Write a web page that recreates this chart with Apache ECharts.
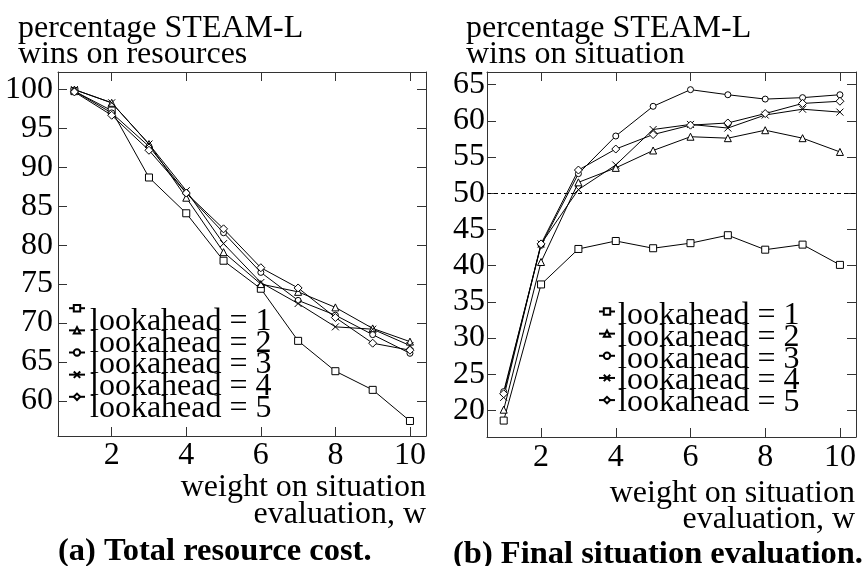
<!DOCTYPE html>
<html><head><meta charset="utf-8">
<script src="https://cdn.jsdelivr.net/npm/echarts@6/dist/echarts.min.js"></script>
<style>html,body{margin:0;padding:0;background:#fff}#c{width:866px;height:566px}</style>
</head><body><div id="c"></div>
<script>
// ---- data ----
const weights = [1, 2, 3, 4, 5, 6, 7, 8, 9, 10];
const seriesNames = ['lookahead = 1', 'lookahead = 2', 'lookahead = 3', 'lookahead = 4', 'lookahead = 5'];
// (a) percentage STEAM-L wins on resources
const resLook1 = [99.8, 97.3, 88.7, 84.1, 78.0, 74.4, 67.7, 63.8, 61.4, 57.4];
const resLook2 = [100.0, 98.3, 93.0, 86.1, 79.1, 75.0, 74.0, 72.0, 69.3, 67.6];
const resLook3 = [99.8, 97.0, 92.7, 86.7, 81.6, 76.5, 72.9, 71.0, 68.5, 66.1];
const resLook4 = [100.0, 98.3, 93.0, 87.0, 80.2, 75.2, 72.5, 69.5, 69.2, 67.1];
const resLook5 = [99.7, 96.7, 92.2, 86.7, 82.1, 77.1, 74.5, 70.7, 67.4, 66.5];
// (b) percentage STEAM-L wins on situation
const sitLook1 = [18.6, 37.4, 42.3, 43.4, 42.4, 43.1, 44.2, 42.2, 42.9, 40.1];
const sitLook2 = [20.1, 40.5, 51.5, 53.5, 55.9, 57.8, 57.6, 58.7, 57.6, 55.7];
const sitLook3 = [22.6, 42.8, 52.7, 57.9, 62.0, 64.3, 63.6, 63.0, 63.2, 63.6];
const sitLook4 = [21.8, 43.0, 50.5, 53.9, 58.8, 59.5, 59.0, 60.8, 61.6, 61.2];
const sitLook5 = [22.3, 43.0, 53.2, 56.1, 58.1, 59.4, 59.7, 61.0, 62.4, 62.7];
const evenLine = 50;
const xTickStep = 2;
const yTickStep = 5;

// ---- styling ----
const FONT = 'Liberation Serif';
const symbols = ['rect', 'triangle', 'circle', 'path://M0,0L10,10M0,10L10,0', 'diamond'];
const symbolSizes = [7, 7, 6, 7, 8];
const resData = [resLook1, resLook2, resLook3, resLook4, resLook5];
const sitData = [sitLook1, sitLook2, sitLook3, sitLook4, sitLook5];
const frameColor = '#333';

function pairs(vals) { return weights.map((w, i) => [w, vals[i]]); }
function stepFmt(step) {
  return function (v) { return Math.abs(v / step - Math.round(v / step)) < 1e-6 ? String(Math.round(v)) : ''; };
}
function xAxisDef(grid, min, max, pos, labels, margin) {
  return {
    type: 'value', gridIndex: grid, position: pos, min: min, max: max, splitNumber: 5,
    axisLine: { show: true, onZero: false, lineStyle: { color: frameColor, width: 1 } },
    axisTick: { show: true, inside: true, length: 9, lineStyle: { color: frameColor } },
    axisLabel: { show: labels, margin: margin, color: '#000', fontFamily: FONT, fontSize: 32, formatter: stepFmt(xTickStep), showMinLabel: false, showMaxLabel: false },
    splitLine: { show: false }
  };
}
function yAxisDef(grid, min, max, split, pos, labels, margin) {
  return {
    type: 'value', gridIndex: grid, position: pos, min: min, max: max, splitNumber: split,
    axisLine: { show: true, onZero: false, lineStyle: { color: frameColor, width: 1 } },
    axisTick: { show: true, inside: true, length: 9, lineStyle: { color: frameColor } },
    axisLabel: { show: labels, margin: margin, color: '#000', fontFamily: FONT, fontSize: 32, formatter: stepFmt(yTickStep), showMinLabel: false, showMaxLabel: false },
    splitLine: { show: false }
  };
}

const series = [];
resData.forEach((vals, i) => {
  series.push({
    name: seriesNames[i], type: 'line', xAxisIndex: 0, yAxisIndex: 0, data: pairs(vals),
    symbol: symbols[i], symbolSize: symbolSizes[i], showAllSymbol: true,
    lineStyle: { color: '#000', width: 1 },
    itemStyle: { color: '#fff', borderColor: '#000', borderWidth: 1 },
    emphasis: { disabled: true }, animation: false
  });
});
sitData.forEach((vals, i) => {
  const s = {
    name: seriesNames[i], type: 'line', xAxisIndex: 2, yAxisIndex: 2, data: pairs(vals),
    symbol: symbols[i], symbolSize: symbolSizes[i], showAllSymbol: true,
    lineStyle: { color: '#000', width: 1 },
    itemStyle: { color: '#fff', borderColor: '#000', borderWidth: 1 },
    emphasis: { disabled: true }, animation: false
  };
  if (i === 0) {
    s.markLine = {
      silent: true, symbol: ['none', 'none'], label: { show: false },
      lineStyle: { color: '#000', width: 1, type: [4, 3] },
      data: [{ yAxis: evenLine }], animation: false
    };
  }
  series.push(s);
});

// legend key samples (icons only)
const iconLegend = {
  orient: 'vertical', padding: 0, itemWidth: 16, itemHeight: 8, itemGap: 13.75,
  selectedMode: false, formatter: function () { return ' '; },
  textStyle: { color: '#000', fontFamily: FONT, fontSize: 6, lineHeight: 8 },
  data: seriesNames
};
// legend texts (icons hidden)
const textLegend = {
  orient: 'vertical', padding: 0, itemWidth: 16, itemHeight: 8, itemGap: -10.25,
  selectedMode: false, icon: 'rect',
  itemStyle: { color: 'rgba(0,0,0,0)', borderWidth: 0, opacity: 0 },
  lineStyle: { opacity: 0 },
  textStyle: { color: '#000', fontFamily: FONT, fontSize: 32 },
  data: seriesNames
};
const titleStyle = { fontFamily: FONT, fontSize: 32, fontWeight: 'normal', color: '#000' };

const chart = echarts.init(document.getElementById('c'), null, { renderer: 'canvas' });
chart.setOption({
  backgroundColor: '#fff',
  animation: false,
  textStyle: { fontFamily: FONT },
  grid: [
    { left: 58, top: 72, width: 368, height: 364 },
    { left: 487, top: 72, width: 369, height: 365 }
  ],
  xAxis: [
    xAxisDef(0, 0.56, 10.43, 'bottom', true, 4),
    xAxisDef(0, 0.56, 10.43, 'top', false, 4),
    xAxisDef(1, 0.553, 10.43, 'bottom', true, 5),
    xAxisDef(1, 0.553, 10.43, 'top', false, 5)
  ],
  yAxis: [
    yAxisDef(0, 55.47, 102.26, 9, 'left', true, 5),
    yAxisDef(0, 55.47, 102.26, 9, 'right', false, 5),
    yAxisDef(1, 16.33, 66.74, 10, 'left', true, 2),
    yAxisDef(1, 16.33, 66.74, 10, 'right', false, 2)
  ],
  title: [
    { text: 'percentage STEAM-L\nwins on resources', left: 18, top: 16, padding: 0, textStyle: Object.assign({ lineHeight: 26 }, titleStyle) },
    { text: 'percentage STEAM-L\nwins on situation', left: 466, top: 16, padding: 0, textStyle: Object.assign({ lineHeight: 26 }, titleStyle) },
    { text: 'weight on situation\nevaluation, w', left: 426, top: 474.5, padding: 0, textAlign: 'right', textStyle: Object.assign({ lineHeight: 27 }, titleStyle) },
    { text: 'weight on situation\nevaluation, w', left: 855, top: 480.5, padding: 0, textAlign: 'right', textStyle: Object.assign({ lineHeight: 26 }, titleStyle) },
    { text: '(a) Total resource cost.', left: 58, top: 535.5, padding: 0, textStyle: { fontFamily: FONT, fontSize: 32.5, fontWeight: 'bold', color: '#000', lineHeight: 33 } },
    { text: '(b) Final situation evaluation.', left: 453, top: 538.5, padding: 0, textStyle: { fontFamily: FONT, fontSize: 32.5, fontWeight: 'bold', color: '#000', lineHeight: 33 } }
  ],
  legend: [
    Object.assign({}, iconLegend, { left: 68, top: 304 }),
    Object.assign({}, textLegend, { left: 69, top: 305.5 }),
    Object.assign({}, iconLegend, { left: 598, top: 307.3 }),
    Object.assign({}, textLegend, { left: 597, top: 299.8 })
  ],
  series: series
});
</script></body></html>
